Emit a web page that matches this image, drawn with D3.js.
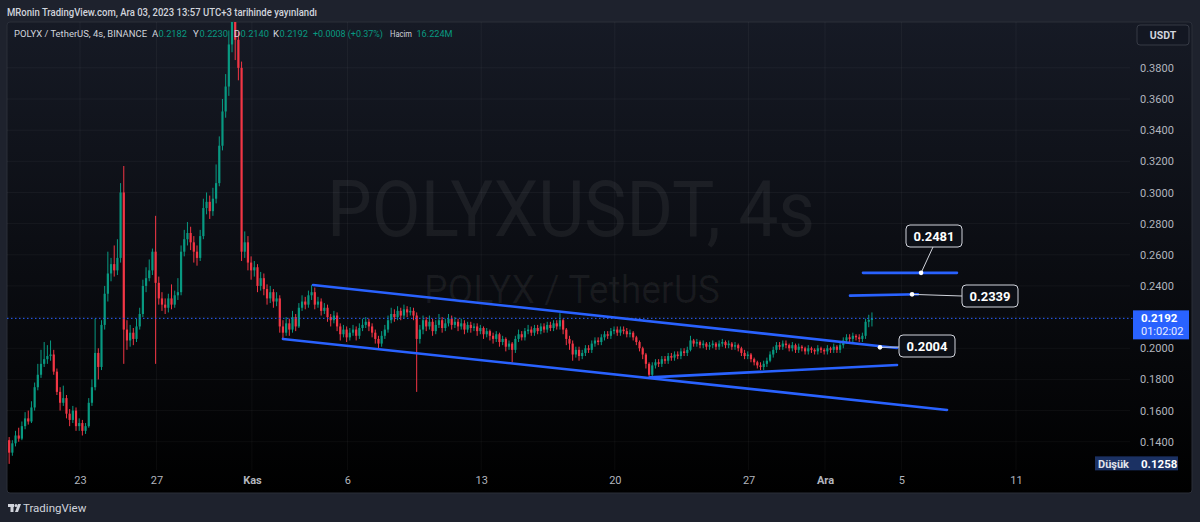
<!DOCTYPE html>
<html><head><meta charset="utf-8">
<script src="https://cdn.jsdelivr.net/npm/d3@7"></script>
<style>body{margin:0;background:#1e222d;}svg{display:block;}</style>
</head><body>
<svg id="c" width="1200" height="522"></svg>
<script>
// ---------- DATA ----------
const firstOpen = 0.141;
const candleStartISO = "2023-10-19T07:00:00Z"; // 4h candles (UTC+3 local times)
const candleHours = 4;
const closes = [
.133,.139,.144,.142,.150,.155,.153,.162,.175,.183,
.190,.193,.195,.196,.185,.172,.165,.168,.158,.154,
.160,.150,.152,.147,.150,.165,.175,.197,.188,.215,
.235,.248,.254,.250,.258,.300,.212,.205,.210,.206,
.214,.222,.240,.245,.250,.262,.242,.232,.228,.226,
.232,.228,.234,.236,.262,.270,.274,.268,.262,.258,
.272,.290,.294,.288,.296,.306,.330,.352,.368,.395,
.420,.398,.380,.262,.268,.255,.250,.252,.240,.245,
.238,.232,.236,.230,.232,.214,.210,.216,.212,.220,
.214,.226,.230,.228,.234,.236,.228,.230,.224,.226,
.220,.218,.221,.214,.209,.212,.207,.210,.212,.208,
.213,.215,.217,.214,.210,.206,.203,.208,.212,.218,
.222,.220,.224,.221,.225,.223,.224,.221,.206,.212,
.218,.214,.217,.211,.215,.218,.213,.216,.219,.215,
.217,.214,.216,.212,.215,.213,.214,.211,.213,.209,
.211,.208,.206,.209,.204,.206,.201,.203,.199,.206,
.209,.207,.211,.212,.210,.213,.211,.214,.212,.215,
.213,.216,.214,.218,.212,.206,.203,.196,.199,.195,
.197,.200,.199,.203,.205,.204,.207,.209,.208,.211,
.212,.210,.212,.211,.209,.210,.207,.204,.200,.196,
.190,.183,.189,.191,.190,.193,.192,.195,.194,.196,
.195,.198,.197,.199,.205,.203,.204,.202,.203,.201,
.202,.203,.201,.203,.204,.202,.203,.201,.202,.200,
.197,.195,.196,.193,.191,.189,.188,.190,.192,.196,
.199,.202,.201,.203,.202,.200,.202,.199,.201,.200,
.198,.200,.199,.198,.200,.199,.198,.200,.199,.201,
.199,.202,.205,.207,.206,.208,.207,.206,.208,.217,
.2182,.2192];
const highs = [
.143,.141,.147,.149,.153,.159,.160,.166,.178,.190,
.199,.204,.202,.205,.199,.187,.175,.176,.170,.161,
.163,.162,.155,.154,.152,.168,.180,.219,.200,.218,
.240,.262,.258,.266,.270,.306,.317,.218,.215,.213,
.219,.226,.244,.252,.257,.264,.285,.246,.236,.232,
.235,.241,.237,.245,.266,.276,.281,.278,.272,.266,
.276,.296,.300,.298,.303,.318,.336,.360,.376,.404,
.450,.428,.403,.384,.275,.272,.259,.256,.254,.249,
.248,.241,.240,.238,.236,.234,.218,.220,.219,.224,
.222,.229,.234,.233,.237,.2405,.239,.233,.232,.229,
.228,.222,.224,.223,.216,.215,.214,.213,.215,.214,
.216,.219,.220,.219,.216,.212,.208,.211,.215,.221,
.226,.225,.227,.226,.228,.227,.2265,.226,.223,.215,
.221,.220,.221,.219,.218,.222,.220,.219,.222,.221,
.220,.219,.219,.218,.217,.217,.216,.216,.215,.214,
.213,.212,.210,.211,.210,.208,.207,.205,.204,.208,
.212,.211,.213,.215,.214,.215,.215,.216,.216,.217,
.217,.218,.218,.2225,.219,.213,.208,.205,.201,.201,
.199,.202,.202,.205,.207,.207,.209,.211,.211,.213,
.214,.214,.214,.214,.213,.212,.211,.208,.205,.201,
.197,.191,.191,.193,.193,.195,.195,.197,.197,.198,
.198,.200,.200,.201,.208,.206,.206,.205,.205,.204,
.204,.205,.204,.205,.206,.205,.205,.204,.204,.203,
.201,.199,.198,.197,.194,.192,.191,.192,.194,.198,
.201,.204,.204,.205,.205,.203,.204,.203,.203,.202,
.201,.202,.201,.200,.202,.201,.200,.202,.201,.203,
.202,.204,.207,.209,.209,.210,.209,.209,.210,.219,
.2215,.2230];
const lows = [
.1258,.131,.137,.140,.141,.148,.151,.152,.160,.173,
.181,.188,.190,.192,.183,.170,.160,.163,.155,.150,
.152,.147,.147,.144,.145,.149,.163,.173,.180,.186,
.212,.230,.243,.246,.247,.255,.190,.199,.201,.202,
.204,.212,.220,.236,.243,.247,.190,.228,.224,.222,
.223,.225,.226,.231,.234,.259,.266,.263,.255,.253,
.256,.270,.286,.283,.285,.293,.304,.327,.348,.362,
.390,.385,.372,.256,.258,.250,.244,.246,.236,.237,
.234,.228,.229,.226,.227,.210,.206,.208,.208,.210,
.211,.213,.224,.225,.226,.231,.225,.226,.221,.222,
.217,.214,.216,.211,.205,.207,.204,.205,.208,.205,
.206,.211,.213,.211,.207,.203,.200,.201,.206,.210,
.216,.217,.218,.218,.219,.220,.221,.218,.172,.203,
.209,.211,.212,.208,.209,.213,.210,.211,.214,.212,
.213,.211,.212,.209,.210,.210,.211,.208,.209,.206,
.207,.205,.203,.204,.201,.202,.198,.199,.191,.197,
.204,.205,.205,.209,.208,.208,.209,.209,.210,.210,
.211,.211,.212,.212,.209,.202,.199,.192,.194,.192,
.193,.195,.197,.197,.201,.202,.202,.205,.206,.206,
.209,.208,.208,.209,.207,.207,.205,.202,.198,.193,
.187,.1805,.182,.187,.188,.188,.190,.190,.192,.192,
.193,.193,.195,.195,.198,.201,.201,.200,.200,.199,
.199,.200,.199,.199,.201,.200,.200,.199,.199,.198,
.195,.193,.193,.191,.189,.187,.186,.186,.188,.191,
.194,.197,.199,.199,.200,.198,.198,.197,.197,.198,
.196,.196,.197,.196,.196,.197,.196,.196,.197,.197,
.197,.197,.200,.203,.204,.204,.205,.204,.204,.206,
.2135,.2140];

const priceTicks = [0.14,0.16,0.18,0.20,0.22,0.24,0.26,0.28,0.30,0.32,0.34,0.36,0.38];
const hiddenPriceLabels = [0.22]; // covered by the last-price label
const timeTickDates = ["2023-10-23","2023-10-27","2023-11-01","2023-11-06","2023-11-13","2023-11-20","2023-11-27","2023-12-01","2023-12-05","2023-12-11"];
const timeTickLabels = ["23","27","Kas","6","13","20","27","Ara","5","11"];
const boldTickLabels = ["Kas","Ara"];

// drawn lines: start/end date and price
const trendStarts = ["2023-11-04T04:48Z","2023-11-02T15:00Z","2023-11-21T20:10Z","2023-12-02T23:45Z","2023-12-02T07:26Z"];
const trendStartPrices = [0.2406,0.2060,0.1813,0.2484,0.2338];
const trendEnds = ["2023-12-04T18:30Z","2023-12-07T09:20Z","2023-12-04T18:30Z","2023-12-07T21:50Z","2023-12-05T20:53Z"];
const trendEndPrices = [0.2002,0.1604,0.1893,0.2484,0.2347];

// price callouts
const calloutLabels = ["0.2481","0.2339","0.2004"];
const calloutDates = ["2023-12-06T00:45Z","2023-12-05T13:25Z","2023-12-03T21:07Z"];
const calloutPrices = [0.2484,0.2346,0.2006];

const headerText = "MRonin TradingView.com, Ara 03, 2023 13:57 UTC+3 tarihinde yayınlandı";
const symbolText = "POLYX / TetherUS, 4s, BINANCE";
const changeText = "+0.0008 (+0.37%)";
const volumeText = "16.224M";
const lowLabel = "Düşük";
const lowValue = 0.1258;
const countdown = "01:02:02";

// ---------- LAYOUT ----------
const svg = d3.select("#c");
const FONT = "Roboto, 'Noto Sans', sans-serif";
const x = d3.scaleUtc().domain([new Date("2023-10-23T00:00Z"), new Date("2023-12-11T00:00Z")]).range([80, 1016]);
const y = d3.scaleLinear().domain([0.12, 0.41]).range([472.9, 21.1]);
const paneL = 7, paneT = 22, paneR = 1130, paneB = 470;

const defs = svg.append("defs");
const grad = defs.append("linearGradient").attr("id","bg").attr("x1",0).attr("y1",0).attr("x2",0).attr("y2",1);
grad.append("stop").attr("offset","0%").attr("stop-color","#161a25");
grad.append("stop").attr("offset","100%").attr("stop-color","#000000");
defs.append("clipPath").attr("id","clip").append("rect")
  .attr("x",paneL).attr("y",paneT).attr("width",paneR-paneL).attr("height",paneB-paneT);

svg.append("rect").attr("width",1200).attr("height",522).attr("fill","#1e222d");
svg.append("rect").attr("x",7).attr("y",22).attr("width",1185).attr("height",471).attr("rx",3)
  .attr("fill","url(#bg)").attr("stroke","#2a2e39");

// header
svg.append("text").attr("x",7).attr("y",16).attr("fill","#d1d4dc").attr("font-family",FONT)
  .attr("font-size",10).attr("font-weight",500)
  .attr("textLength",310).attr("lengthAdjust","spacingAndGlyphs").text(headerText);

// grid
const grid = svg.append("g").attr("clip-path","url(#clip)");
grid.selectAll(".hg").data(priceTicks).join("line")
  .attr("x1",paneL).attr("x2",paneR).attr("y1",d=>y(d)).attr("y2",d=>y(d))
  .attr("stroke","rgba(255,255,255,0.045)");
grid.selectAll(".vg").data(timeTickDates).join("line")
  .attr("x1",d=>x(new Date(d+"T00:00Z"))).attr("x2",d=>x(new Date(d+"T00:00Z")))
  .attr("y1",paneT).attr("y2",paneB).attr("stroke","rgba(255,255,255,0.045)");

// watermark
svg.append("text").attr("x",571).attr("y",236).attr("text-anchor","middle")
  .attr("font-family",FONT).attr("font-size",78).attr("fill","rgba(255,255,255,0.06)")
  .attr("textLength",488).attr("lengthAdjust","spacingAndGlyphs").text("POLYXUSDT, 4s");
svg.append("text").attr("x",572).attr("y",303).attr("text-anchor","middle")
  .attr("font-family",FONT).attr("font-size",39).attr("fill","rgba(255,255,255,0.06)")
  .attr("textLength",296).attr("lengthAdjust","spacingAndGlyphs").text("POLYX / TetherUS");

// candles
const t0 = new Date(candleStartISO).getTime();
const candles = closes.map((c,i)=>({
  t: new Date(t0 + i*candleHours*3600e3),
  o: i===0 ? firstOpen : closes[i-1], h: highs[i], l: lows[i], c: c }));
const cg = svg.append("g").attr("clip-path","url(#clip)");
const up = "#089981", dn = "#f23645";
cg.selectAll(".wick").data(candles).join("line")
  .attr("x1",d=>x(d.t)).attr("x2",d=>x(d.t)).attr("y1",d=>y(d.h)).attr("y2",d=>y(d.l))
  .attr("stroke",d=>d.c>=d.o?up:dn).attr("stroke-width",1);
cg.selectAll(".body").data(candles).join("rect")
  .attr("x",d=>x(d.t)-1.1).attr("width",2.2)
  .attr("y",d=>y(Math.max(d.o,d.c))).attr("height",d=>Math.max(1,Math.abs(y(d.o)-y(d.c))))
  .attr("fill",d=>d.c>=d.o?up:dn);

// last price dotted line
const last = candles[candles.length-1];
svg.append("line").attr("x1",paneL).attr("x2",1133).attr("y1",y(last.c)).attr("y2",y(last.c))
  .attr("stroke","#2962ff").attr("stroke-width",1).attr("stroke-dasharray","1.5,2.5");

// trend lines
const tl = svg.append("g").attr("clip-path","url(#clip)");
trendStarts.forEach((s,i)=>{
  tl.append("line").attr("x1",x(new Date(s))).attr("y1",y(trendStartPrices[i]))
    .attr("x2",x(new Date(trendEnds[i]))).attr("y2",y(trendEndPrices[i]))
    .attr("stroke","#2962ff").attr("stroke-width",2.6).attr("stroke-linecap","round");
});

// callouts
const boxW = 56, boxH = 22;
const boxCenters = [[934,236],[990,296],[927,346]];
const anchorsEnd = [[933,247],[962,296],[899,347]];
calloutLabels.forEach((lab,i)=>{
  const ax = x(new Date(calloutDates[i])), ay = y(calloutPrices[i]);
  svg.append("line").attr("x1",ax).attr("y1",ay).attr("x2",anchorsEnd[i][0]).attr("y2",anchorsEnd[i][1])
    .attr("stroke","#d1d4dc").attr("stroke-width",1);
  svg.append("rect").attr("x",boxCenters[i][0]-boxW/2).attr("y",boxCenters[i][1]-boxH/2)
    .attr("width",boxW).attr("height",boxH).attr("rx",4)
    .attr("fill","#0c0f16").attr("stroke","#d1d4dc").attr("stroke-width",1);
  svg.append("text").attr("x",boxCenters[i][0]).attr("y",boxCenters[i][1]+4.5)
    .attr("text-anchor","middle").attr("font-family",FONT).attr("font-size",13).attr("font-weight",700)
    .attr("fill","#ffffff").text(lab);
  svg.append("circle").attr("cx",ax).attr("cy",ay).attr("r",2.3).attr("fill","#ffffff");
});

// price axis
const labelTicks = priceTicks.filter(d=>!hiddenPriceLabels.includes(d));
const yAxis = d3.axisRight(y).tickValues(labelTicks).tickFormat(d3.format(".4f")).tickSize(0).tickPadding(0);
const ya = svg.append("g").attr("transform","translate(1140,0)").call(yAxis);
ya.select(".domain").remove();
ya.selectAll("text").attr("fill","#b2b5be").attr("font-family",FONT).attr("font-size",11);

// USDT box
svg.append("rect").attr("x",1137).attr("y",25).attr("width",52).attr("height",20).attr("rx",3)
  .attr("fill","#131722").attr("stroke","#363a45");
svg.append("text").attr("x",1163).attr("y",39).attr("text-anchor","middle").attr("fill","#d1d4dc")
  .attr("font-family",FONT).attr("font-size",10.5).attr("font-weight",700).text("USDT");

// current price label
const cy = y(last.c);
svg.append("rect").attr("x",1133).attr("y",cy-8).attr("width",56).attr("height",29).attr("fill","#2962ff");
svg.append("text").attr("x",1141).attr("y",cy+4).attr("fill","#ffffff").attr("font-family",FONT)
  .attr("font-size",11.5).attr("font-weight",700).text(d3.format(".4f")(last.c));
svg.append("text").attr("x",1141).attr("y",cy+17).attr("fill","#e8ecff").attr("font-family",FONT)
  .attr("font-size",11).text(countdown);

// low label
const ly = y(lowValue);
svg.append("rect").attr("x",1095).attr("y",ly-7.5).attr("width",83).attr("height",14).attr("fill","#1b3163");
svg.append("text").attr("x",1098).attr("y",ly+4).attr("fill","#e0e3eb").attr("font-family",FONT)
  .attr("font-size",11).attr("font-weight",700).text(lowLabel);
svg.append("text").attr("x",1141).attr("y",ly+4).attr("fill","#ffffff").attr("font-family",FONT)
  .attr("font-size",11.5).attr("font-weight",700).text(d3.format(".4f")(lowValue));

// time axis
const xAxis = d3.axisBottom(x).tickValues(timeTickDates.map(d=>new Date(d+"T00:00Z")))
  .tickFormat((d,i)=>timeTickLabels[i]).tickSize(0).tickPadding(0);
const xa = svg.append("g").attr("transform","translate(0,476)").call(xAxis);
xa.select(".domain").remove();
xa.selectAll("text").attr("fill","#b2b5be").attr("font-family",FONT).attr("font-size",11)
  .attr("font-weight",(d,i)=>boldTickLabels.includes(timeTickLabels[i])?700:400);

// legend (pieces placed at their positions in the reference)
const lg = svg.append("g").attr("font-family",FONT).attr("font-size",9.6);
const green = "#089981";
const fmt = d3.format(".4f");
lg.append("text").attr("x",14).attr("y",37).attr("fill","#d1d4dc")
  .attr("textLength",133).attr("lengthAdjust","spacingAndGlyphs").text(symbolText);
const legendKeys = ["A","Y","D","K"];
const legendKeyX = [152,193,234,273];
const legendVals = [last.o,last.h,last.l,last.c];
legendKeys.forEach((k,i)=>{
  lg.append("text").attr("x",legendKeyX[i]).attr("y",37).attr("fill","#d1d4dc").text(k);
  lg.append("text").attr("x",legendKeyX[i]+6.5).attr("y",37).attr("fill",green)
    .attr("textLength",28.5).attr("lengthAdjust","spacingAndGlyphs").text(fmt(legendVals[i]));
});
lg.append("text").attr("x",313).attr("y",37).attr("fill",green)
  .attr("textLength",70).attr("lengthAdjust","spacingAndGlyphs").text(changeText);
lg.append("text").attr("x",390).attr("y",37).attr("fill","#d1d4dc")
  .attr("textLength",22).attr("lengthAdjust","spacingAndGlyphs").text("Hacim");
lg.append("text").attr("x",416.5).attr("y",37).attr("fill",green)
  .attr("textLength",36).attr("lengthAdjust","spacingAndGlyphs").text(volumeText);

// footer logo
const ft = svg.append("g");
ft.append("rect").attr("x",8).attr("y",504).attr("width",6).attr("height",3).attr("fill","#d1d4dc");
ft.append("rect").attr("x",10.5).attr("y",504).attr("width",3).attr("height",8).attr("fill","#d1d4dc");
ft.append("circle").attr("cx",16).attr("cy",505.5).attr("r",1.5).attr("fill","#d1d4dc");
ft.append("path").attr("d","M18,504 L21,504 L18,512 L15,512 Z").attr("fill","#d1d4dc");
ft.append("text").attr("x",23).attr("y",512).attr("fill","#d1d4dc").attr("font-family",FONT)
  .attr("font-size",11.5).text("TradingView");
</script>
</body></html>
